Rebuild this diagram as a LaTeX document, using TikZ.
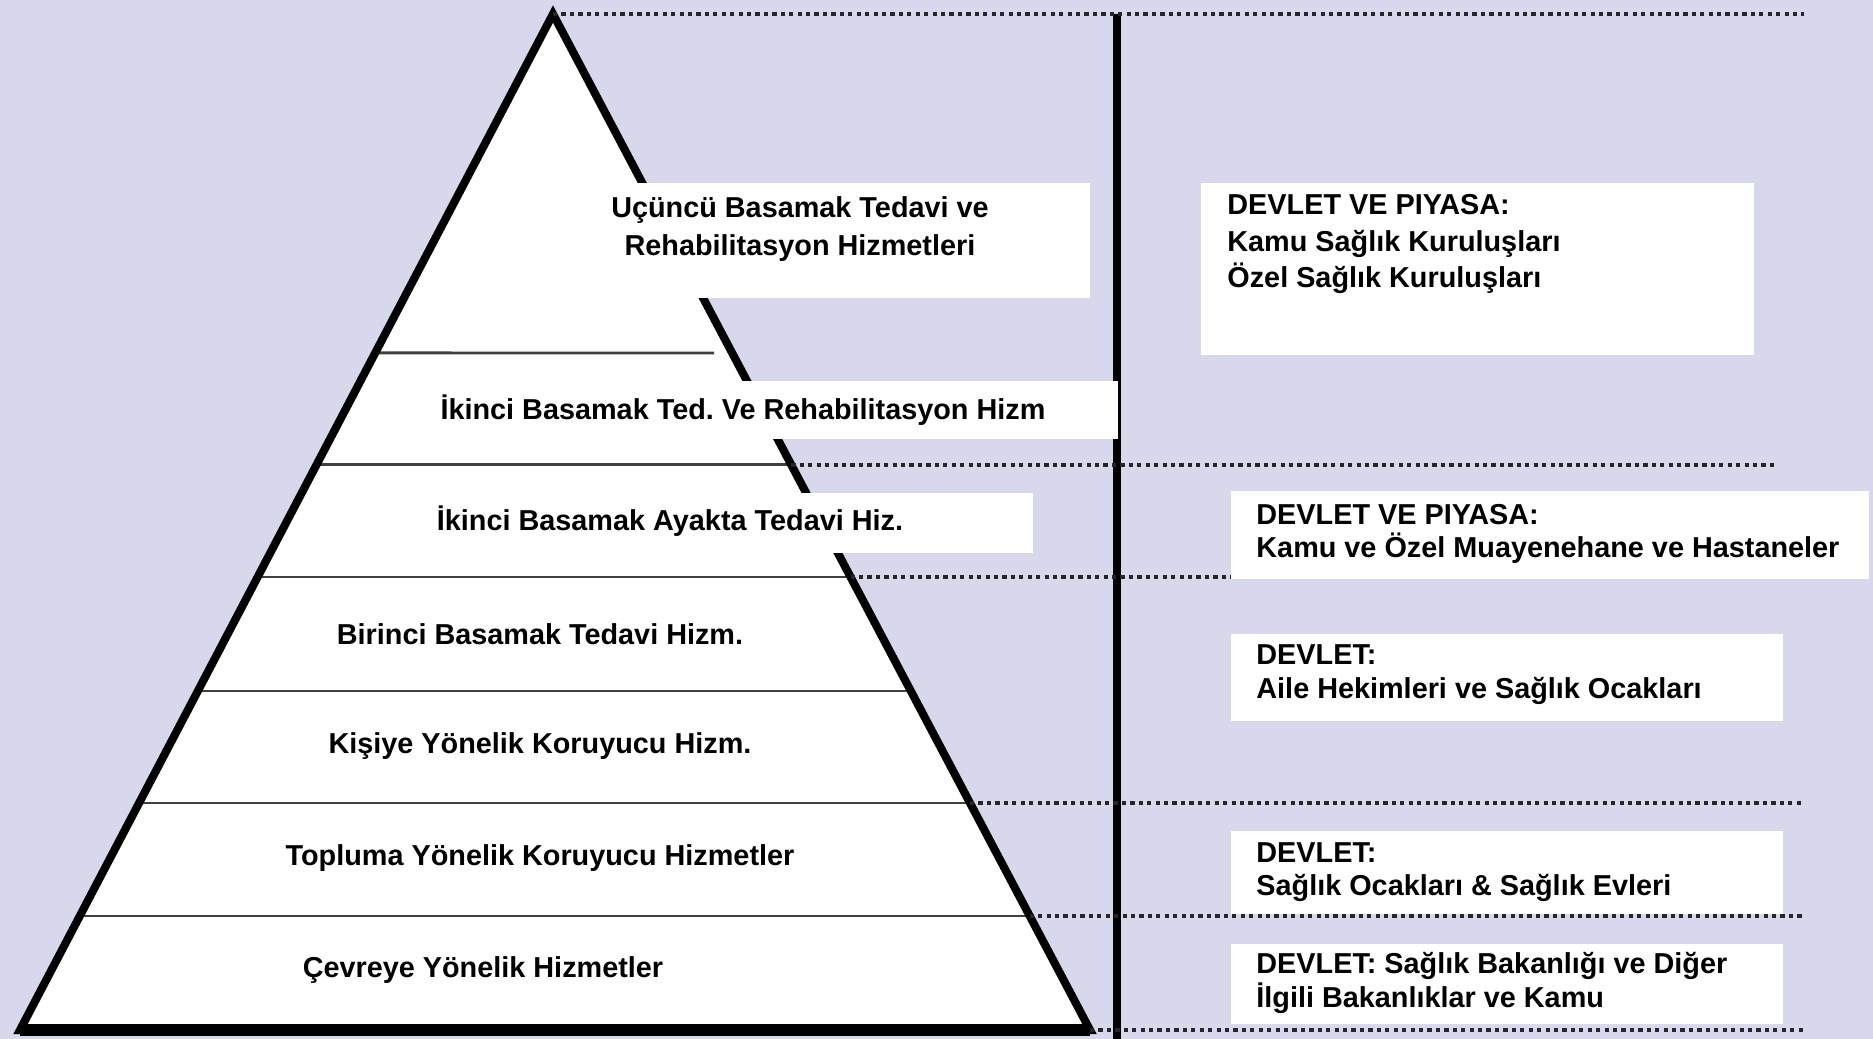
\documentclass[tikz,border=0pt]{standalone}
\usepackage{fontspec}
\setmainfont{Liberation Sans}
\usetikzlibrary{calc,positioning}

\definecolor{bglav}{RGB}{215,216,235}

\begin{document}
\begin{tikzpicture}[thick,
    tri/.style={draw,line width=2.3pt,line join=miter},
    level line/.style={draw=black!75,line width=0.85pt},
    dot line/.style={draw=black!85,line width=1.1pt,dash pattern=on 1.2pt off 1.2pt},
    white box/.style={fill=white,inner sep=0pt,anchor=north west},
    tier text/.style={font=\fontsize{8.2}{10.6}\selectfont\bfseries,align=center,inner sep=0pt},
    side text/.style={font=\fontsize{8.2}{9.6}\selectfont\bfseries,align=left,inner sep=0pt,anchor=west}]

  \useasboundingbox (0,0) rectangle (18.73,-10.39);
  \fill[bglav] (0,0) rectangle (18.73,-10.39);

  % pyramid
  \coordinate (apex) at (5.53,-0.14);
  \coordinate (bl) at (0.20,-10.30);
  \coordinate (br) at (10.90,-10.30);
  \fill[white] (apex) -- (bl) -- (br) -- cycle;

  \foreach \lev [count=\i] in {3.53,4.65,5.77,6.91,8.03,9.16}{
    \coordinate (l\i) at ($(apex)!{(\lev-0.14)/10.16}!(bl)$);
    \coordinate (r\i) at ($(apex)!{(\lev-0.14)/10.16}!(br)$);
  }
  \draw[level line] (l1) -- (7.14,-3.53);
  \foreach \i in {2,...,6}
    \draw[level line] (l\i) -- (r\i);

  \draw[tri] (apex) -- (bl) -- (br) -- cycle;
  \draw[line width=3.4pt] (bl) -- (br);

  % divider and dotted guides
  \coordinate (vtop) at (11.17,-0.14);
  \coordinate (vbot) at (11.17,-10.39);
  \draw[line width=2pt] (vtop) -- (vbot);

  \coordinate (eA) at (18.04,0);
  \coordinate (eB) at (17.76,0);
  \draw[dot line] (apex) -- (apex -| eA);
  \draw[dot line] (r2) -- (r2 -| eB);
  \draw[dot line] (r3) -- (r3 -| eB);
  \draw[dot line] (r5) -- (r5 -| eA);
  \draw[dot line] (r6) -- (r6 -| eA);
  \draw[dot line] (br) -- (br -| eA);

  % label boxes
  \node[white box,minimum width=5.74cm,minimum height=1.15cm] (b1) at (5.15,-1.82) {};
  \node[white box,minimum width=7.37cm,minimum height=0.58cm] (b2) at (3.80,-3.80) {};
  \node[white box,minimum width=7.24cm,minimum height=0.60cm] (b3) at (3.08,-4.92) {};
  \node[white box,minimum width=5.53cm,minimum height=1.72cm] (bA) at (12.00,-1.82) {};
  \node[white box,minimum width=6.38cm,minimum height=0.88cm] (bB) at (12.30,-4.90) {};
  \node[white box,minimum width=5.52cm,minimum height=0.87cm] (bC) at (12.30,-6.33) {};
  \node[white box,minimum width=5.52cm,minimum height=0.83cm] (bD) at (12.30,-8.30) {};
  \node[white box,minimum width=5.52cm,minimum height=0.80cm] (bE) at (12.30,-9.43) {};

  % tiers
  \node[tier text] (t1) at (8.00,-2.29) {Uçüncü Basamak Tedavi ve\\Rehabilitasyon Hizmetleri};
  \node[tier text] (t2) at (7.43,-4.10) {İkinci Basamak Ted.\ Ve Rehabilitasyon Hizm};
  \node[tier text] (t3) at (6.70,-5.21) {İkinci Basamak Ayakta Tedavi Hiz.};
  \node[tier text] (t4) at (5.40,-6.34) {Birinci Basamak Tedavi Hizm.};
  \node[tier text] (t5) at (5.40,-7.46) {Kişiye Yönelik Koruyucu Hizm.};
  \node[tier text] (t6) at (5.40,-8.58) {Topluma Yönelik Koruyucu Hizmetler};
  \node[tier text] (t7) at (4.83,-9.70) {Çevreye Yönelik Hizmetler};

  % providers
  \node[side text,font=\fontsize{8.2}{10.4}\selectfont\bfseries] (tA) at (12.26,-2.44)
    {DEVLET VE PIYASA:\\Kamu Sağlık Kuruluşları\\Özel Sağlık Kuruluşları};
  \node[side text] (tB) at (12.55,-5.34) {DEVLET VE PIYASA:\\Kamu ve Özel Muayenehane ve Hastaneler};
  \node[side text] (tC) at (12.55,-6.75) {DEVLET:\\Aile Hekimleri ve Sağlık Ocakları};
  \node[side text] (tD) at (12.55,-8.72) {DEVLET:\\Sağlık Ocakları \& Sağlık Evleri};
  \node[side text] (tE) at (12.55,-9.83) {DEVLET: Sağlık Bakanlığı ve Diğer\\İlgili Bakanlıklar ve Kamu};
\end{tikzpicture}
\end{document}
